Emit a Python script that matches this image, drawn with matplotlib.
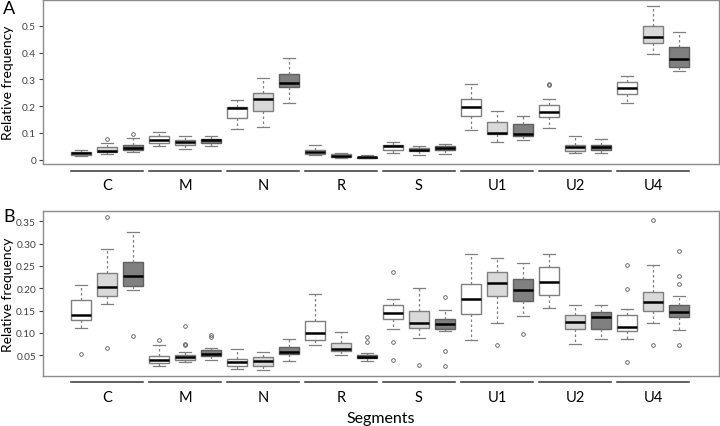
import numpy as np
import matplotlib
matplotlib.use('Agg')
import matplotlib.pyplot as plt

plt.rcParams['font.family'] = ['Lato', 'DejaVu Sans']

segments = ['C', 'M', 'N', 'R', 'S', 'U1', 'U2', 'U4']
fills = ['#ffffff', '#d9d9d9', '#808080']

# Panel A box stats per box: (whislo, q1, med, q3, whishi), order = segment x group
a_stats = [
    (0.015, 0.017, 0.024, 0.028, 0.037), (0.020, 0.027, 0.031, 0.046, 0.061), (0.030, 0.036, 0.042, 0.056, 0.083),
    (0.051, 0.063, 0.074, 0.087, 0.104), (0.040, 0.056, 0.067, 0.074, 0.090), (0.050, 0.062, 0.072, 0.079, 0.090),
    (0.114, 0.157, 0.192, 0.198, 0.223), (0.124, 0.183, 0.226, 0.249, 0.304), (0.212, 0.270, 0.286, 0.319, 0.379),
    (0.017, 0.022, 0.028, 0.037, 0.054), (0.006, 0.010, 0.015, 0.020, 0.025), (0.006, 0.008, 0.010, 0.012, 0.016),
    (0.026, 0.036, 0.050, 0.056, 0.068), (0.016, 0.031, 0.038, 0.043, 0.051), (0.020, 0.035, 0.043, 0.050, 0.057),
    (0.110, 0.163, 0.198, 0.228, 0.283), (0.068, 0.097, 0.101, 0.140, 0.183), (0.072, 0.090, 0.095, 0.132, 0.163),
    (0.120, 0.161, 0.178, 0.205, 0.226), (0.024, 0.031, 0.047, 0.054, 0.090), (0.025, 0.035, 0.048, 0.056, 0.079),
    (0.212, 0.246, 0.267, 0.291, 0.313), (0.396, 0.436, 0.460, 0.499, 0.574), (0.333, 0.345, 0.375, 0.422, 0.476),
]
a_fliers = [
    [], [0.079], [0.095],
    [], [], [],
    [], [], [],
    [], [], [],
    [], [], [],
    [], [], [],
    [0.278, 0.283], [], [],
    [], [], [],
]

# Panel B
b_stats = [
    (0.110, 0.128, 0.139, 0.173, 0.207), (0.164, 0.182, 0.202, 0.235, 0.287), (0.196, 0.205, 0.228, 0.258, 0.326),
    (0.026, 0.032, 0.040, 0.049, 0.073), (0.034, 0.039, 0.045, 0.051, 0.058), (0.040, 0.049, 0.053, 0.061, 0.067),
    (0.020, 0.027, 0.034, 0.042, 0.063), (0.017, 0.026, 0.036, 0.047, 0.058), (0.037, 0.052, 0.057, 0.069, 0.087),
    (0.072, 0.083, 0.100, 0.126, 0.187), (0.050, 0.060, 0.065, 0.078, 0.103), (0.037, 0.043, 0.047, 0.050, 0.054),
    (0.108, 0.132, 0.144, 0.162, 0.176), (0.088, 0.112, 0.123, 0.150, 0.201), (0.105, 0.109, 0.121, 0.131, 0.152),
    (0.085, 0.143, 0.177, 0.209, 0.276), (0.122, 0.183, 0.212, 0.237, 0.268), (0.137, 0.171, 0.195, 0.220, 0.257),
    (0.156, 0.186, 0.215, 0.247, 0.276), (0.075, 0.109, 0.125, 0.141, 0.163), (0.087, 0.109, 0.135, 0.146, 0.162),
    (0.087, 0.104, 0.114, 0.141, 0.153), (0.122, 0.149, 0.169, 0.192, 0.252), (0.106, 0.135, 0.147, 0.162, 0.182),
]
b_fliers = [
    [0.052], [0.360, 0.067], [0.093],
    [0.084], [0.116, 0.074, 0.076], [0.096, 0.091],
    [], [], [],
    [], [], [0.090, 0.080],
    [0.237, 0.080, 0.040], [0.028], [0.180, 0.060, 0.027],
    [], [0.072], [0.097],
    [], [], [],
    [0.253, 0.199, 0.034], [0.353, 0.073], [0.284, 0.228, 0.209, 0.073],
]


def make_stats(stats, fliers):
    out = []
    for (lo, q1, med, q3, hi), fl in zip(stats, fliers):
        out.append({'whislo': lo, 'q1': q1, 'med': med, 'q3': q3, 'whishi': hi, 'fliers': fl})
    return out


def draw_panel(ax, stats, fliers, line_y, label_y):
    positions = np.arange(1, len(stats) + 1)
    bp = ax.bxp(make_stats(stats, fliers), positions=positions, widths=0.8,
                patch_artist=True, showfliers=True,
                boxprops=dict(edgecolor='#7f7f7f', linewidth=1.0),
                medianprops=dict(color='black', linewidth=1.8),
                whiskerprops=dict(color='#7f7f7f', linestyle=(0, (2, 2)), linewidth=0.9),
                capprops=dict(color='#7f7f7f', linewidth=0.9),
                flierprops=dict(marker='o', markersize=2.6, markerfacecolor='none',
                                markeredgecolor='#555555', markeredgewidth=0.6))
    for i, box in enumerate(bp['boxes']):
        box.set_facecolor(fills[i % 3])
        if i % 3 == 2:
            box.set_edgecolor('#606060')
    for cap in bp['caps']:
        x = cap.get_xdata()
        c = np.mean(x)
        cap.set_xdata([c - 0.22, c + 0.22])
    ax.set_xlim(-0.46, 25.54)
    ax.set_xticks([])
    for s in ax.spines.values():
        s.set_color('#8c8c8c')
        s.set_linewidth(1.0)
    ax.tick_params(axis='y', labelsize=7.3, colors='#404040', length=3, width=0.8, pad=2)
    ax.set_ylabel('Relative frequency', fontsize=10)
    ax.yaxis.set_label_coords(-0.043, 0.5)
    trans = ax.get_xaxis_transform()
    for g, name in enumerate(segments):
        start = 3 * g + 1
        ax.plot([start - 0.38, start + 2.38], [line_y, line_y], color='#333333',
                linewidth=1.1, transform=trans, clip_on=False)
        ax.text(start + 1, label_y, name, transform=trans, ha='center', va='center',
                fontsize=10.5)


fig = plt.figure(figsize=(7.2, 4.27), dpi=100)
ax_a = fig.add_axes([43 / 720, 1 - 165 / 427, 676 / 720, 164 / 427])
ax_b = fig.add_axes([43 / 720, 1 - 377 / 427, 676 / 720, 165 / 427])

draw_panel(ax_a, a_stats, a_fliers, -0.042, -0.13)
ax_a.set_ylim(-0.016, 0.597)
ax_a.set_yticks([0, 0.1, 0.2, 0.3, 0.4, 0.5])
ax_a.set_yticklabels(['0', '0.1', '0.2', '0.3', '0.4', '0.5'])

draw_panel(ax_b, b_stats, b_fliers, -0.036, -0.125)
ax_b.set_ylim(0.0035, 0.373)
ax_b.set_yticks([0.05, 0.10, 0.15, 0.20, 0.25, 0.30, 0.35])
ax_b.set_yticklabels(['0.05', '0.10', '0.15', '0.20', '0.25', '0.30', '0.35'])

fig.text(9 / 720, 1 - 9 / 427, 'A', fontsize=13, ha='center', va='center')
fig.text(9 / 720, 1 - 217 / 427, 'B', fontsize=13, ha='center', va='center')
fig.text(381 / 720, 1 - 419 / 427, 'Segments', fontsize=11.5, ha='center', va='center')

fig.savefig('out.png', dpi=100)
